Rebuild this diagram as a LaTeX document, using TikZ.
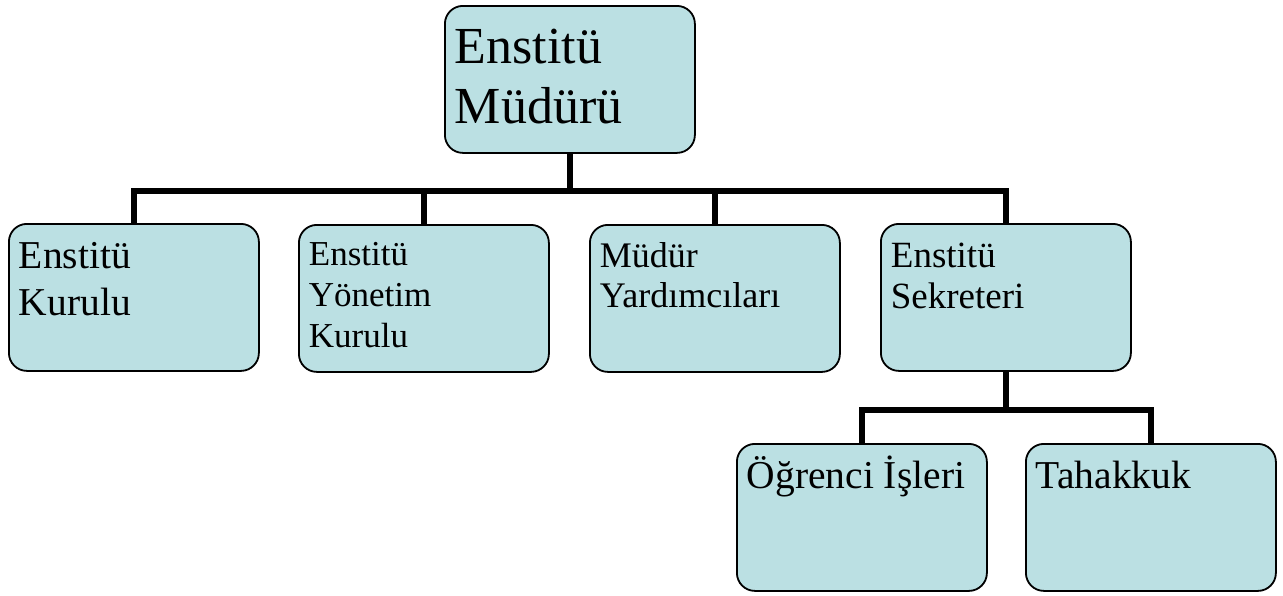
\documentclass[tikz,border=0pt]{standalone}
\usepackage{fontspec}
\setmainfont{Liberation Serif}
\usetikzlibrary{positioning}
\definecolor{boxblue}{RGB}{187,224,227}

\tikzset{
	orgbox/.style={draw=black, line width=1.8pt, fill=boxblue, rounded corners=18pt, inner sep=0pt, anchor=north west},
	orgline/.style={black, line width=6pt}
}
% box text: font size, line skip, first baseline, lines
\newcommand{\orgtext}[4]{\parbox[t][147pt][t]{250pt}{\fontsize{#1}{#2}\selectfont\raggedright\leftskip=10pt\rule{0pt}{#3}#4}}

\begin{document}
\begin{tikzpicture}[x=1pt, y=1pt]
	\useasboundingbox (0,0) rectangle (1283,-595);
	
	\node[orgbox] (mudur) at (444,-5) {\orgtext{52}{60}{58pt}{Enstitü\\Müdürü}};
	\node[orgbox] (kurul) at (8,-223) {\orgtext{39.5}{47}{45pt}{Enstitü\\Kurulu}};
	\node[orgbox] (yonetim) at (298,-224) {\orgtext{35}{41}{41pt}{Enstitü\\Yönetim\\Kurulu}};
	\node[orgbox] (yardimci) at (589,-224) {\orgtext{36}{40}{43pt}{Müdür\\Yardımcıları}};
	\node[orgbox] (sekreter) at (880,-223) {\orgtext{37}{41}{44pt}{Enstitü\\Sekreteri}};
	\node[orgbox] (ogrenci) at (736,-443) {\orgtext{39.5}{47}{45pt}{Öğrenci İşleri}};
	\node[orgbox] (tahakkuk) at (1025,-443) {\orgtext{39.5}{47}{45pt}{Tahakkuk}};
	
	\coordinate (bus1) at (mudur.south |- 0,-191);
	\coordinate (bus2) at (sekreter.south |- 0,-410);
	
	% first level
	\draw[orgline] (mudur.south) -- (bus1);
	\draw[orgline] (kurul.north) |- (bus1) -| (sekreter.north);
	\draw[orgline] (yonetim.north) -- (yonetim.north |- bus1);
	\draw[orgline] (yardimci.north) -- (yardimci.north |- bus1);
	% second level
	\draw[orgline] (sekreter.south) -- (bus2);
	\draw[orgline] (ogrenci.north) |- (bus2) -| (tahakkuk.north);
\end{tikzpicture}
\end{document}
